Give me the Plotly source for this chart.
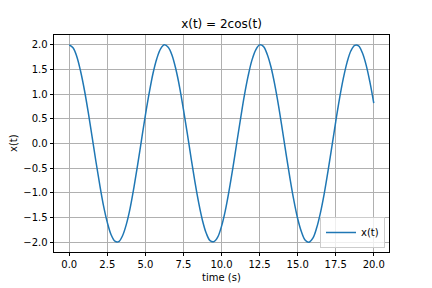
import plotly.graph_objects as go

t_values = [i * 0.25 for i in range(81)]
x_values = [
    2.00, 1.94, 1.76, 1.46, 1.08, 0.63, 0.14, -0.36, -0.83, -1.26,
    -1.60, -1.85, -1.98, -1.99, -1.87, -1.64, -1.31, -0.89, -0.42, 0.08,
    0.57, 1.02, 1.42, 1.72, 1.92, 2.00, 1.95, 1.79, 1.51, 1.14,
    0.69, 0.21, -0.29, -0.77, -1.20, -1.56, -1.82, -1.97, -1.99, -1.90,
    -1.68, -1.36, -0.95, -0.49, 0.01, 0.50, 0.97, 1.37, 1.69, 1.90,
    2.00, 1.97, 1.81, 1.55, 1.19, 0.76, 0.27, -0.23, -0.71, -1.15,
    -1.52, -1.79, -1.96, -2.00, -1.92, -1.71, -1.40, -1.01, -0.55, -0.06,
    0.44, 0.91, 1.32, 1.65, 1.88, 1.99, 1.98, 1.84, 1.59, 1.24,
    0.82,
]
x_ticks = [0.0, 2.5, 5.0, 7.5, 10.0, 12.5, 15.0, 17.5, 20.0]
y_ticks = [-2.0, -1.5, -1.0, -0.5, 0.0, 0.5, 1.0, 1.5, 2.0]

FONT = "DejaVu Sans"
W, H = 432, 288
L, R, T, B = 54, 43, 35, 36

fig = go.Figure()
fig.add_trace(go.Scatter(
    x=t_values, y=x_values, mode="lines", name="x(t)",
    line=dict(color="#1f77b4", width=1.5, shape="spline"),
))

axis_common = dict(
    showline=True, linecolor="black", linewidth=0.8, mirror=True,
    showgrid=True, gridcolor="#b0b0b0", gridwidth=0.8,
    ticks="outside", ticklen=3.5, tickwidth=0.8, tickcolor="black",
    zeroline=False, automargin=False,
    tickfont=dict(family=FONT, size=10, color="black"),
)

fig.update_layout(
    width=W, height=H,
    margin=dict(l=L, r=R, t=T, b=B),
    paper_bgcolor="white", plot_bgcolor="white",
    font=dict(family=FONT, size=10, color="black"),
    title=dict(text="x(t) = 2cos(t)", x=0.5, xref="paper", xanchor="center",
               y=1 - 24 / H, yref="container", yanchor="middle",
               font=dict(family=FONT, size=12, color="black")),
    xaxis=dict(range=[-1, 21], tickvals=x_ticks,
               ticktext=[f"{v:.1f}" for v in x_ticks], **axis_common),
    yaxis=dict(range=[-2.2, 2.2], tickvals=y_ticks,
               ticktext=[f"{v:.1f}".replace("-", "\u2212") for v in y_ticks],
               **axis_common),
    showlegend=True,
    legend=dict(x=(385 - L) / (W - L - R), y=(H - B - 248) / (H - T - B),
                xanchor="right", yanchor="bottom",
                bgcolor="rgba(255,255,255,0.8)", bordercolor="#cccccc",
                borderwidth=1, font=dict(family=FONT, size=10, color="black"),
                itemwidth=30, tracegroupgap=0),
    annotations=[
        dict(text="time (s)", xref="paper", x=0.5, yref="paper",
             y=-(277 - (H - B)) / (H - T - B), xanchor="center", yanchor="middle",
             showarrow=False, font=dict(family=FONT, size=10, color="black")),
        dict(text="x(t)", xref="paper", x=-(L - 13) / (W - L - R), yref="paper",
             y=(H - B - 143) / (H - T - B), xanchor="center", yanchor="middle",
             textangle=-90, showarrow=False,
             font=dict(family=FONT, size=10, color="black")),
    ],
)

fig.write_html("out.html")
